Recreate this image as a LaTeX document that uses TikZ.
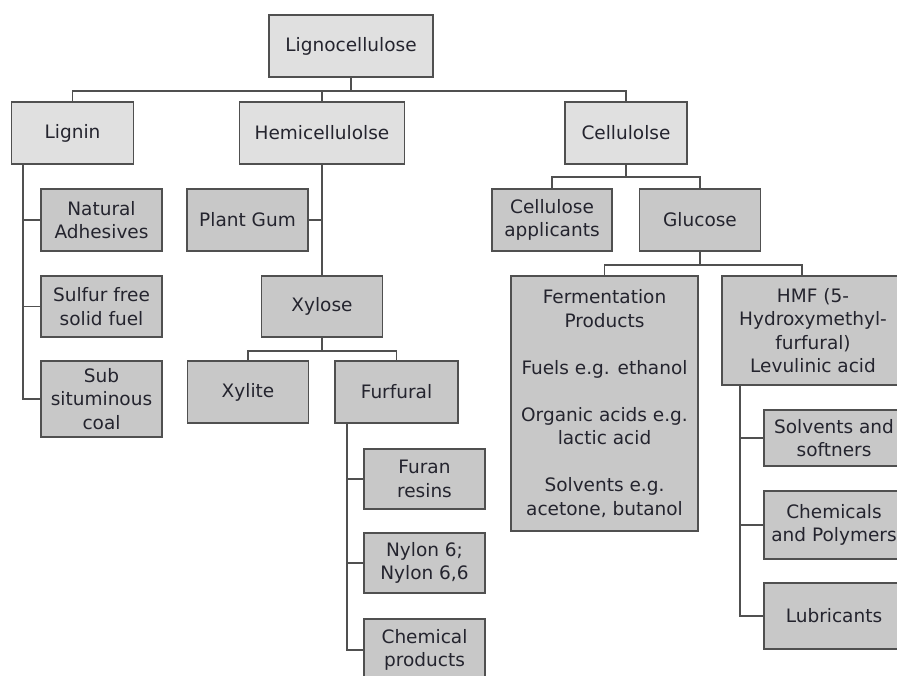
\documentclass[tikz,border=0pt]{standalone}
\usepackage{fontspec}
\setmainfont{DejaVu Sans}
\definecolor{lightbox}{HTML}{E0E0E0}
\definecolor{darkbox}{HTML}{C8C8C8}
\definecolor{edge}{HTML}{505050}
\definecolor{txt}{HTML}{24242E}
\begin{document}
\begin{tikzpicture}[x=1pt,y=-1pt,
  bx/.style={draw=edge, line width=1.3pt, fill=darkbox, inner sep=0pt, align=center,
    text=txt, font=\fontsize{18.5}{23.5}\selectfont},
  lbx/.style={bx, fill=lightbox},
  conn/.style={draw=edge, line width=1.3pt}]
\useasboundingbox (0,0) rectangle (897,675);
\clip (0,0) rectangle (897,675);
% top level
\node[lbx, minimum width=164pt, minimum height=62pt] (lig) at (351,46) {Lignocellulose};
\node[lbx, minimum width=122pt, minimum height=62pt] (lignin) at (72.5,133) {Lignin};
\node[lbx, minimum width=165pt, minimum height=62pt] (hemi) at (322,133) {Hemicellulolse};
\node[lbx, minimum width=122pt, minimum height=62pt] (cell) at (626,133) {Cellulolse};
% lignin branch
\node[bx, minimum width=121pt, minimum height=62pt] (nat) at (101.5,220) {Natural\\Adhesives};
\node[bx, minimum width=121pt, minimum height=61pt] (sulf) at (101.5,306.5) {Sulfur free\\solid fuel};
\node[bx, minimum width=121pt, minimum height=76pt] (sub) at (101.5,399) {Sub\\situminous\\coal};
% hemicellulose branch
\node[bx, minimum width=121pt, minimum height=62pt] (gum) at (247.5,220) {Plant Gum};
\node[bx, minimum width=121pt, minimum height=61pt] (xyl) at (322,306.5) {Xylose};
\node[bx, minimum width=121pt, minimum height=62pt] (xylite) at (248,392) {Xylite};
\node[bx, minimum width=123pt, minimum height=62pt] (furf) at (396.5,392) {Furfural};
\node[bx, minimum width=121pt, minimum height=60pt] (furan) at (424.5,479) {Furan\\resins};
\node[bx, minimum width=121pt, minimum height=60pt] (nylon) at (424.5,563) {Nylon 6;\\Nylon 6,6};
\node[bx, minimum width=121pt, minimum height=62pt] (chem) at (424.5,650) {Chemical\\products};
% cellulose branch
\node[bx, minimum width=120pt, minimum height=62pt] (capp) at (552,220) {Cellulose\\applicants};
\node[bx, minimum width=121pt, minimum height=62pt] (gluc) at (700,220) {Glucose};
\node[bx, minimum width=187pt, minimum height=255pt] (ferm) at (604.5,403.5)
  {Fermentation\\Products\\[23.5pt]Fuels e.g. ethanol\\[23.5pt]Organic acids e.g.\\lactic acid\\[23.5pt]Solvents e.g.\\acetone, butanol};
\node[bx, minimum width=182pt, minimum height=109pt] (hmf) at (813,330.5)
  {HMF (5-\\Hydroxymethyl-\\furfural)\\Levulinic acid};
\node[bx, minimum width=140pt, minimum height=56pt] (solv) at (834,438) {Solvents and\\softners};
\node[bx, minimum width=140pt, minimum height=68pt] (chpoly) at (834,525) {Chemicals\\and Polymers};
\node[bx, minimum width=140pt, minimum height=66pt] (lub) at (834,616) {Lubricants};
% junctions
\coordinate (j1) at (351,91);
\coordinate (lt) at (23,164);
\coordinate (j2) at (322,351);
\coordinate (ft) at (347,423);
\coordinate (j3) at (626,177);
\coordinate (j4) at (700,265);
\coordinate (hmftop) at (802,276);
\coordinate (ht) at (740,385);
% connectors
\draw[conn] (lig.south) -- (j1);
\draw[conn] (lignin.north) |- (j1) -| (cell.north);
\draw[conn] (hemi.north) -- (hemi.north |- j1);
\draw[conn] (lt) |- (sub.west);
\draw[conn] (lt |- nat.west) -- (nat.west);
\draw[conn] (lt |- sulf.west) -- (sulf.west);
\draw[conn] (hemi.south) -- (xyl.north);
\draw[conn] (gum.east) -- (gum.east -| xyl.north);
\draw[conn] (xyl.south) -- (j2);
\draw[conn] (xylite.north) |- (j2) -| (furf.north);
\draw[conn] (ft) |- (chem.west);
\draw[conn] (ft |- furan.west) -- (furan.west);
\draw[conn] (ft |- nylon.west) -- (nylon.west);
\draw[conn] (cell.south) -- (j3);
\draw[conn] (capp.north) |- (j3) -| (gluc.north);
\draw[conn] (gluc.south) -- (j4);
\draw[conn] (ferm.north) |- (j4) -| (hmftop);
\draw[conn] (ht) |- (lub.west);
\draw[conn] (ht |- solv.west) -- (solv.west);
\draw[conn] (ht |- chpoly.west) -- (chpoly.west);
\end{tikzpicture}
\end{document}
